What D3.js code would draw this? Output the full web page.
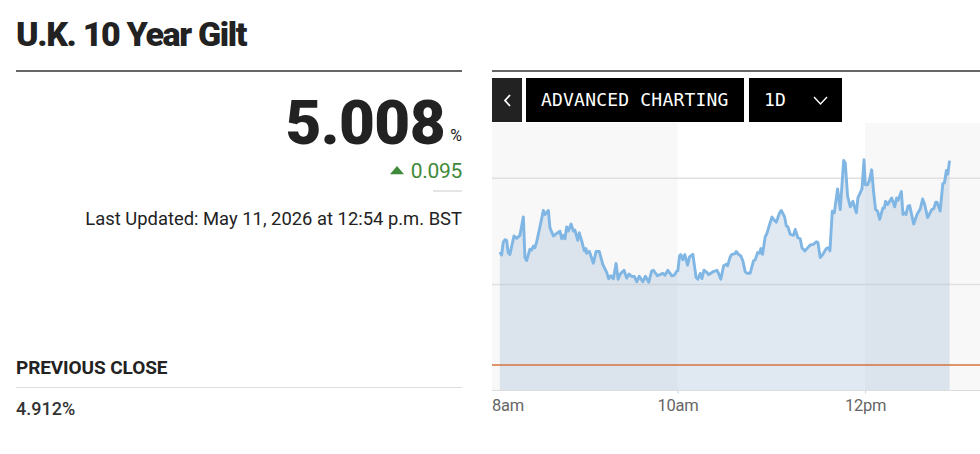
<!DOCTYPE html>
<html>
<head>
<meta charset="utf-8">
<script src="https://cdn.jsdelivr.net/npm/d3@7"></script>
<style>
  html, body { margin: 0; padding: 0; background: #fff; overflow: hidden; }
  svg { display: block; }
  text { font-family: Roboto, sans-serif; }
</style>
</head>
<body>
<div id="chart"></div>
<script>
// minutes after 8am
var minutes = [6.4,7.5,8.5,9.6,10.7,11.7,12.8,15.4,17.1,19.2,21.4,22.4,23.5,25.6,26.7,27.8,28.8,29.9,32.0,34.2,35.2,37.4,38.4,40.6,42.7,44.8,45.9,47.0,48.0,49.1,50.2,51.9,53.4,54.4,56.2,57.2,58.7,60.4,61.5,61.9,63.6,66.2,67.9,70.0,72.2,74.7,76.0,77.3,79.0,80.7,82.0,83.3,85.8,87.5,89.0,90.7,92.4,93.9,95.6,97.8,99.5,101.6,103.5,104.6,107.2,110.6,111.9,113.8,116.4,117.9,119.6,120.2,121.3,122.1,123.4,124.7,126.4,127.7,129.8,131.9,133.0,134.5,135.6,136.9,138.8,139.8,143.0,145.2,146.2,147.7,149.5,151.2,152.0,153.7,
  154.8,156.9,157.5,159.0,160.5,161.8,163.3,164.4,166.5,168.6,169.7,171.2,172.5,173.3,174.4,176.1,177.2,178.9,180.4,181.4,183.2,185.3,186.4,188.5,189.6,190.6,192.1,194.2,195.3,197.0,198.5,199.6,201.5,204.9,207.0,208.8,209.8,211.3,213.0,215.2,216.7,217.5,219.0,220.3,222.4,224.1,226.3,227.3,228.8,230.5,232.2,234.4,235.4,238.0,239.3,240.1,241.6,242.9,244.2,245.5,246.7,248.0,249.3,251.4,252.3,253.1,254.4,257.0,258.9,260.2,261.1,263.2,264.2,265.3,266.2,267.4,268.5,271.1,273.2,275.3,276.8,278.1,280.0,282.6,283.9,285.2,286.0,288.0,289.7,290.7,292.0,292.9,294.0];
var yields = [4.9651,4.9637,4.9695,4.9709,4.9706,4.9648,4.9639,4.9726,4.9715,4.9729,4.9816,4.9625,4.9611,4.9664,4.9660,4.9679,4.9671,4.9698,4.9769,4.9846,4.9827,4.9846,4.9765,4.9726,4.9738,4.9749,4.9713,4.9729,4.9713,4.9769,4.9749,4.9782,4.9749,4.9754,4.9706,4.9741,4.9703,4.9656,4.9667,4.9645,4.9654,4.9598,4.9653,4.9653,4.9593,4.9555,4.9525,4.9539,4.9525,4.9597,4.9523,4.9547,4.9565,4.9528,4.9547,4.9536,4.9536,4.9511,4.9537,4.9511,4.9537,4.9509,4.9562,4.9565,4.9539,4.9551,4.9542,4.9565,4.9539,4.9542,4.9562,4.9562,4.9632,4.9639,4.9614,4.9639,4.9589,4.9628,4.9640,4.9531,4.9523,4.9550,4.9526,4.9565,4.9555,4.9544,4.9559,4.9565,4.9551,4.9523,4.9586,4.9593,4.9586,4.9628,
  4.9640,4.9643,4.9653,4.9640,4.9632,4.9609,4.9558,4.9551,4.9551,4.9609,4.9614,4.9648,4.9645,4.9667,4.9640,4.9723,4.9738,4.9780,4.9815,4.9804,4.9791,4.9835,4.9846,4.9816,4.9773,4.9769,4.9734,4.9729,4.9757,4.9718,4.9713,4.9671,4.9656,4.9684,4.9687,4.9699,4.9695,4.9625,4.9640,4.9667,4.9671,4.9656,4.9843,4.9835,4.9947,4.9850,5.0081,5.0069,4.9913,4.9863,4.9889,4.9835,4.9905,4.9947,5.0084,4.9967,4.9967,4.9991,5.0037,4.9928,4.9850,4.9843,4.9804,4.9858,4.9858,4.9889,4.9874,4.9905,4.9863,4.9905,4.9894,4.9935,4.9827,4.9835,4.9827,4.9866,4.9869,4.9782,4.9827,4.9854,4.9900,4.9874,4.9812,4.9850,4.9854,4.9885,4.9885,4.9843,4.9972,4.9975,5.0034,5.0017,5.008];

var previousClose = 4.912;
var gridValues = [4.95, 5.0];
var tickMinutes = [0, 120, 240];
var tickLabels = ["8am", "10am", "12pm"];
var shadedHours = [[0, 120], [240, 314]];

var width = 980, height = 454;
var plot = {left: 492, right: 980, top: 123, bottom: 390.5};

var start = new Date(2026, 4, 11, 8, 0);
function toTime(m) { return start.getTime() + m * 60000; }

var xScale = d3.scaleTime()
    .domain([new Date(toTime(0)), new Date(toTime(314))])
    .range([489.9, 980.8]);
var yScale = d3.scaleLinear()
    .domain([4.9, 5.0257])
    .range([plot.bottom, plot.top]);

var data = minutes.map(function(m, i) {
    return {t: new Date(toTime(m)), v: yields[i]};
});

var svg = d3.select("#chart").append("svg")
    .attr("width", width)
    .attr("height", height);

// shaded session bands
svg.selectAll("rect.band")
    .data(shadedHours)
    .enter()
    .append("rect")
    .attr("class", "band")
    .attr("x", function(d) { return Math.max(plot.left, xScale(new Date(toTime(d[0])))); })
    .attr("y", plot.top)
    .attr("width", function(d) {
        return Math.min(plot.right, xScale(new Date(toTime(d[1])))) - Math.max(plot.left, xScale(new Date(toTime(d[0]))));
    })
    .attr("height", plot.bottom - plot.top)
    .attr("fill", "#f8f8f8");

// gridlines
var yAxis = d3.axisRight(yScale)
    .tickValues(gridValues)
    .tickSize(plot.right - plot.left)
    .tickFormat("");
svg.append("g")
    .attr("class", "y axis")
    .attr("transform", "translate(" + plot.left + ",0)")
    .call(yAxis)
    .call(function(g) { g.select(".domain").remove(); })
    .selectAll("line")
    .attr("stroke", "#e0e0e0")
    .attr("stroke-width", 1.5);

// area and line
var area = d3.area()
    .x(function(d) { return xScale(d.t); })
    .y0(plot.bottom)
    .y1(function(d) { return yScale(d.v); });
var line = d3.line()
    .x(function(d) { return xScale(d.t); })
    .y(function(d) { return yScale(d.v); });

svg.append("path")
    .datum(data)
    .attr("d", area)
    .attr("fill", "#a6bdda")
    .attr("fill-opacity", 0.35);

svg.append("line")
    .attr("x1", plot.left)
    .attr("x2", plot.right)
    .attr("y1", yScale(previousClose))
    .attr("y2", yScale(previousClose))
    .attr("stroke", "#d4743c")
    .attr("stroke-width", 1.4);

svg.append("path")
    .datum(data)
    .attr("d", line)
    .attr("fill", "none")
    .attr("stroke", "#80b6e4")
    .attr("stroke-width", 2.9)
    .attr("stroke-linejoin", "round");

// x axis
var xAxis = d3.axisBottom(xScale)
    .tickValues(tickMinutes.map(function(m) { return new Date(toTime(m)); }))
    .tickSize(3)
    .tickPadding(6)
    .tickFormat(function(d, i) { return tickLabels[i]; });
var xg = svg.append("g")
    .attr("class", "x axis")
    .attr("transform", "translate(0," + plot.bottom + ")")
    .call(xAxis);
xg.select(".domain").remove();
xg.append("line")
    .attr("x1", plot.left).attr("x2", plot.right)
    .attr("stroke", "#dcdcdc").attr("stroke-width", 1.2);
xg.selectAll(".tick line").attr("stroke", "#c3d6ea");
xg.selectAll(".tick text")
    .attr("font-size", 16.5)
    .attr("letter-spacing", -0.2)
    .attr("fill", "#666")
    .style("font-family", "Roboto, sans-serif");
xg.selectAll(".tick").filter(function(d, i) { return i === 0; })
    .call(function(t) {
        t.select("line").remove();
        t.select("text").attr("text-anchor", "start").attr("x", 1.5);
    });

// header rules
var rules = [
    [16, 462, 71, "#333", 1.4],
    [492, 980, 71, "#333", 1.4],
    [433, 462, 191, "#ccc", 1],
    [16, 462, 387.5, "#ddd", 1]
];
svg.selectAll("line.rule")
    .data(rules)
    .enter()
    .append("line")
    .attr("class", "rule")
    .attr("x1", function(d) { return d[0]; })
    .attr("x2", function(d) { return d[1]; })
    .attr("y1", function(d) { return d[2]; })
    .attr("y2", function(d) { return d[2]; })
    .attr("stroke", function(d) { return d[3]; })
    .attr("stroke-width", function(d) { return d[4]; });

// left panel text
function label(x, y, txt, size, weight, color, anchor, spacing) {
    return svg.append("text")
        .attr("x", x).attr("y", y)
        .attr("font-size", size)
        .attr("font-weight", weight)
        .attr("fill", color)
        .attr("text-anchor", anchor || "start")
        .attr("letter-spacing", spacing || 0)
        .text(txt);
}
label(16, 45.5, "U.K. 10 Year Gilt", 34, 900, "#222", "start", -1.35);
label(445, 144, "5.008", 62, 900, "#222", "end", -0.6);
label(462, 141, "%", 16, 400, "#222", "end");
label(462, 178, "0.095", 21, 400, "#3f8a3a", "end", -0.3);
svg.append("path")
    .attr("d", d3.symbol().type(d3.symbolTriangle).size(62))
    .attr("transform", "translate(397,171.5) scale(1.17,0.8)")
    .attr("fill", "#3f8a3a");
label(462, 225, "Last Updated: May 11, 2026 at 12:54 p.m. BST", 18.4, 400, "#222", "end");
label(16, 374, "PREVIOUS CLOSE", 19, 700, "#222", "start", -0.1);
label(16, 415, "4.912%", 18, 500, "#333");

// toolbar buttons
var buttons = [
    {x: 492, w: 30, fill: "#222", txt: ""},
    {x: 526, w: 218, fill: "#000", txt: "ADVANCED CHARTING"},
    {x: 749, w: 93, fill: "#000", txt: "1D"}
];
svg.selectAll("rect.btn")
    .data(buttons)
    .enter()
    .append("rect")
    .attr("class", "btn")
    .attr("x", function(d) { return d.x; })
    .attr("y", 78)
    .attr("width", function(d) { return d.w; })
    .attr("height", 44)
    .attr("fill", function(d) { return d.fill; });
svg.selectAll("text.btn")
    .data(buttons.slice(1))
    .enter()
    .append("text")
    .attr("class", "btn")
    .attr("x", function(d) { return d.x + 15; })
    .attr("y", 106)
    .attr("font-size", 18)
    .attr("letter-spacing", 0.2)
    .attr("fill", "#fff")
    .style("font-family", "'DejaVu Sans Mono', monospace")
    .text(function(d) { return d.txt; });
svg.append("path")
    .attr("d", "M510,95 L505,100.5 L510,106")
    .attr("fill", "none").attr("stroke", "#fff").attr("stroke-width", 1.8);
svg.append("path")
    .attr("d", "M814,97 L820.5,104 L827,97")
    .attr("fill", "none").attr("stroke", "#fff").attr("stroke-width", 1.4);
</script>
</body>
</html>
